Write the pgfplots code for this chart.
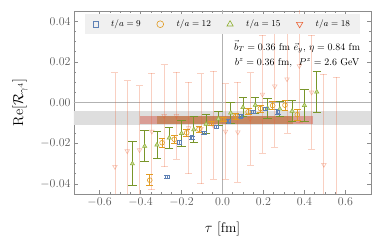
\documentclass[border=0pt]{standalone}
\usepackage{pgfplots}
\pgfplotsset{compat=1.18}
\usepackage{pgfplotstable}
\definecolor{mblue}{rgb}{0.368,0.507,0.710}
\definecolor{morange}{rgb}{0.881,0.611,0.142}
\definecolor{mgreen}{rgb}{0.560,0.692,0.195}
\definecolor{mred}{rgb}{0.923,0.386,0.209}
\definecolor{bandred}{rgb}{0.84,0.45,0.40}
\definecolor{bandorange}{rgb}{0.72,0.46,0.22}

\pgfplotstableread{
x y e
-0.27 -0.0366 0.0008
-0.21 -0.0196 0.0008
-0.15 -0.0172 0.0007
-0.09 -0.0149 0.0007
-0.03 -0.0120 0.0007
0.03 -0.0092 0.0007
0.09 -0.0067 0.0008
0.15 -0.0046 0.0008
0.21 -0.0032 0.0009
0.27 -0.0046 0.0010
}\tnine

\pgfplotstableread{
x y e
-0.355 -0.0382 0.0026
-0.295 -0.0198 0.0022
-0.235 -0.0181 0.0020
-0.175 -0.0149 0.0016
-0.115 -0.0131 0.0014
-0.055 -0.0103 0.0012
0.005 -0.0083 0.0012
0.065 -0.0067 0.0014
0.125 -0.0046 0.0015
0.185 -0.0030 0.0018
0.245 -0.0015 0.0021
0.305 -0.0013 0.0025
0.365 -0.0060 0.0027
}\ttwelve

\pgfplotstableread{
x y e
-0.44 -0.0301 0.0107
-0.38 -0.0215 0.0077
-0.32 -0.0208 0.0065
-0.26 -0.0174 0.0053
-0.20 -0.0152 0.0062
-0.14 -0.0133 0.0062
-0.08 -0.0106 0.0045
-0.02 -0.0080 0.0035
0.04 -0.0051 0.0050
0.10 -0.0024 0.0047
0.16 -0.0013 0.0040
0.22 -0.0028 0.0050
0.28 -0.0032 0.0038
0.34 -0.0042 0.0050
0.40 -0.0014 0.0080
0.46 0.0052 0.0101
}\tfifteen

\pgfplotstableread{
x y e
-0.525 -0.0316 0.0463
-0.465 -0.0239 0.0347
-0.405 -0.0234 0.0317
-0.345 -0.0143 0.0286
-0.285 -0.0065 0.0251
-0.225 -0.0065 0.0215
-0.165 -0.0125 0.0226
-0.105 -0.0129 0.0271
-0.045 -0.0112 0.0265
0.015 -0.0142 0.0235
0.075 -0.0146 0.0245
0.135 -0.0080 0.0227
0.195 0.0040 0.0290
0.255 0.0080 0.0300
0.315 0.0115 0.0265
0.375 0.0180 0.0280
0.435 0.0050 0.0280
0.495 -0.0306 0.0445
0.555 -0.0500 0.0625
}\teighteen

\begin{document}
\begin{tikzpicture}
\begin{axis}[
  scale only axis, width=297bp, height=183bp,
  xmin=-0.725, xmax=0.725, ymin=-0.045, ymax=0.045,
  xtick={-0.6,-0.4,-0.2,0,0.2,0.4,0.6},
  ytick={-0.04,-0.02,0,0.02,0.04},
  minor tick num=3,
  scaled x ticks=false, scaled y ticks=false,
  tick align=inside,
  axis line style={black!45},
  every tick/.style={black!45, line width=0.5bp},
  major tick length=4bp, minor tick length=2.3bp,
  xticklabel style={/pgf/number format/.cd, fixed, fixed zerofill, precision=1},
  yticklabel style={/pgf/number format/.cd, fixed, fixed zerofill, precision=2},
  ticklabel style={font=\fontsize{12}{14}\selectfont, text=black!65},
  xlabel={$\tau$ [fm]},
  ylabel={$\mathrm{Re}[\mathcal{R}_{\gamma^4}]$},
  every axis x label/.style={at={(axis description cs:0.5,-0.191)}, anchor=center, font=\fontsize{14}{16}\selectfont},
  every axis y label/.style={at={(axis description cs:-0.182,0.5)}, anchor=center, rotate=90, font=\fontsize{14}{16}\selectfont},
  legend style={at={(axis description cs:0.5,0.984)}, anchor=north, legend columns=4, draw=none, fill=black!6,
    font=\fontsize{9}{11}\selectfont, inner ysep=4bp, inner xsep=8bp,
    /tikz/every odd column/.append style={column sep=11bp},
    /tikz/every even column/.append style={column sep=14bp}},
  legend cell align=left,
]
% bands
\addplot[fill=black!13, draw=none, forget plot] coordinates {(-0.8,-0.0112) (0.8,-0.0112) (0.8,-0.0043) (-0.8,-0.0043)} -- cycle;
\addplot[black!30, line width=0.5bp, forget plot] coordinates {(-0.8,0) (0.8,0)};
\addplot[black!30, line width=0.5bp, forget plot] coordinates {(0,-0.05) (0,0.05)};
\addplot[fill=bandred, fill opacity=0.6, draw=none, forget plot] coordinates {(-0.405,-0.0108) (0.44,-0.0108) (0.44,-0.0066) (-0.405,-0.0066)} -- cycle;
\addplot[fill=bandorange, fill opacity=0.55, draw=none, forget plot] coordinates {(-0.32,-0.0108) (0.345,-0.0108) (0.345,-0.0066) (-0.32,-0.0066)} -- cycle;

% legend images
\addlegendimage{only marks, mark=square, mark size=2.6bp, mblue, line width=0.6bp}
\addlegendentry{$t/a=9$}
\addlegendimage{only marks, mark=o, mark size=3.4bp, morange, line width=0.6bp}
\addlegendentry{$t/a=12$}
\addlegendimage{only marks, mark=triangle, mark size=3.6bp, mgreen, line width=0.6bp}
\addlegendentry{$t/a=15$}
\addlegendimage{only marks, mark=triangle, mark size=3.6bp, mred, line width=0.6bp, mark options={rotate=180}}
\addlegendentry{$t/a=18$}

% t/a = 18
\addplot[only marks, forget plot, mark=triangle, mark size=2.6bp, color=mred, opacity=0.4,
  mark options={rotate=180, line width=0.6bp},
  error bars/.cd, y dir=both, y explicit,
  error bar style={line width=0.8bp, mred, opacity=0.3},
  error mark options={rotate=90, mark size=3.5bp, line width=0.8bp, mred, opacity=0.3}]
  table[x=x, y=y, y error=e] {\teighteen};
% t/a = 15
\addplot[only marks, forget plot, mark=triangle*, mark size=2.5bp, color=mgreen,
  mark options={fill=mgreen!50, line width=0.5bp},
  error bars/.cd, y dir=both, y explicit,
  error bar style={line width=0.9bp, mgreen!85!black},
  error mark options={rotate=90, mark size=4.2bp, line width=0.9bp, mgreen!85!black}]
  table[x=x, y=y, y error=e] {\tfifteen};
% t/a = 12
\addplot[only marks, forget plot, mark=o, mark size=2.4bp, color=morange,
  mark options={line width=0.6bp},
  error bars/.cd, y dir=both, y explicit,
  error bar style={line width=0.8bp, morange},
  error mark options={rotate=90, mark size=3.4bp, line width=0.8bp, morange}]
  table[x=x, y=y, y error=e] {\ttwelve};
% t/a = 9
\addplot[only marks, forget plot, mark=square, mark size=1.8bp, color=mblue,
  mark options={line width=0.6bp},
  error bars/.cd, y dir=both, y explicit,
  error bar style={line width=0.7bp, mblue},
  error mark options={rotate=90, mark size=2.8bp, line width=0.7bp, mblue}]
  table[x=x, y=y, y error=e] {\tnine};

\node[font=\fontsize{10}{12}\selectfont, inner sep=0pt] at (axis description cs:0.751,0.803)
  {$\vec{b}_T = 0.36$ fm $\vec{e}_y$, $\eta = 0.84$ fm};
\node[font=\fontsize{10}{12}\selectfont, inner sep=0pt] at (axis description cs:0.751,0.716)
  {$b^z = 0.36$ fm,\ \ $P^z = 2.6$ GeV};
\end{axis}
\pgfresetboundingbox
\path[use as bounding box] ([shift={(-74bp,-49bp)}]current axis.south west) rectangle ([shift={(11bp,11bp)}]current axis.north east);
\end{tikzpicture}
\end{document}
